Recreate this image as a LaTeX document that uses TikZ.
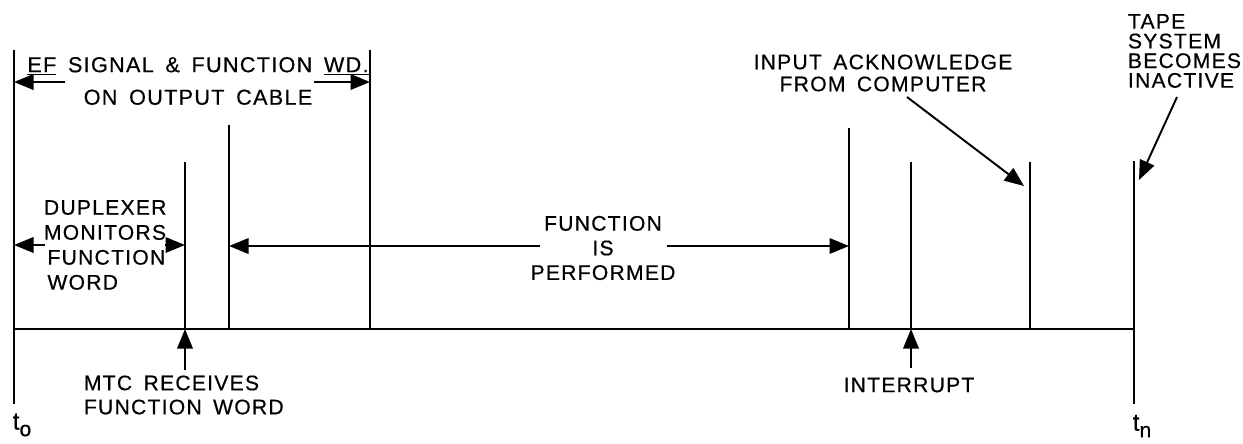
\documentclass[tikz,border=0pt]{standalone}
\usepackage{fontspec}
\setmainfont{Liberation Sans}[LetterSpace=6, WordSpace=1.6, FakeBold=0.5]
\usetikzlibrary{arrows.meta}

\begin{document}
\begin{tikzpicture}[x=0.2mm, y=-0.2mm, line width=1.1pt,
    every node/.style={font=\fontsize{12}{13}\selectfont, inner sep=0pt},
    arr/.style={-{Triangle[length=3.9mm,width=3.1mm]}}]
                \newcommand{\base}{329}
                \newcommand{\lowend}{404}
                \newcommand{\tsub}[1]{\raisebox{-0.5ex}{\fontsize{12}{12}\selectfont #1}}
                \useasboundingbox (0,0) rectangle (1243,443);

                % Draw time axis with start and end marks
                \coordinate (t0) at (14,\base);
                \coordinate (tn) at (1134,\base);
                \draw (t0) -- (tn);
                \draw (14,50) -- (14,\lowend);
                \draw (1134,161) -- (1134,\lowend);
                \node (t0lab) at (22,425) {\fontsize{14}{15}\selectfont t\tsub{o}};
                \node (tnlab) at (1142,426) {\fontsize{14}{15}\selectfont t\tsub{n}};

                % Draw event marks
                \foreach \name/\x/\top in {mtc/185/162, fun/229/125, ef/370/50, done/849/128, irq/911/162, ack/1030/162} {
                    \coordinate (\name) at (\x,\base);
                    \draw (\name) -- (\x,\top);
                }

                % Signal on output cable
                \node[align=center, font=\fontsize{12.3}{18.5}\selectfont] (eftext) at (198,81)
                    {\underline{EF} SIGNAL \& FUNCTION \underline{WD.}\\ON OUTPUT CABLE};
                \coordinate (efL) at (65,82);
                \coordinate (efR) at (314,82);
                \draw[arr] (efL) -- (efL -| t0);
                \draw[arr] (efR) -- (efR -| ef);

                % Duplexer span
                \node[align=left, anchor=west, font=\fontsize{12}{14.2}\selectfont] (duptext) at (43,245)
                    {DUPLEXER\\MONITORS\\\,FUNCTION\\\,WORD};
                \coordinate (dupL) at (45,245);
                \coordinate (dupR) at (165,245);
                \draw[arr] (dupL) -- (dupL -| t0);
                \draw[arr] (dupR) -- (dupR -| mtc);

                % Function span
                \node[align=center, font=\fontsize{12}{14}\selectfont] (funtext) at (603,248)
                    {FUNCTION\\IS\\PERFORMED};
                \coordinate (funL) at (540,246);
                \coordinate (funR) at (667,246);
                \draw[arr] (funL) -- (funL -| fun);
                \draw[arr] (funR) -- (funR -| done);

                % Labels below the axis
                \node[align=left, anchor=west, font=\fontsize{12}{13.7}\selectfont] (mtctext) at (83,395)
                    {MTC RECEIVES\\FUNCTION WORD};
                \coordinate (mtcfoot) at (185,370);
                \draw[arr] (mtcfoot) -- (mtc);
                \node (irqtext) at (909,385) {INTERRUPT};
                \coordinate (irqfoot) at (911,368);
                \draw[arr] (irqfoot) -- (irq);

                % Labels above the axis
                \node[align=center, font=\fontsize{12}{12.5}\selectfont] (acktext) at (883,73)
                    {INPUT ACKNOWLEDGE\\FROM COMPUTER};
                \coordinate (acktail) at (907,97);
                \coordinate (acktip) at (1024,186);
                \draw[arr] (acktail) -- (acktip);
                \node[align=left, anchor=west, font=\fontsize{12}{11.2}\selectfont] (tapetext) at (1127,51)
                    {TAPE\\SYSTEM\\BECOMES\\INACTIVE};
                \coordinate (tapetail) at (1177,97);
                \coordinate (tapetip) at (1139,180);
                \draw[arr] (tapetail) -- (tapetip);
            \end{tikzpicture}
\end{document}
